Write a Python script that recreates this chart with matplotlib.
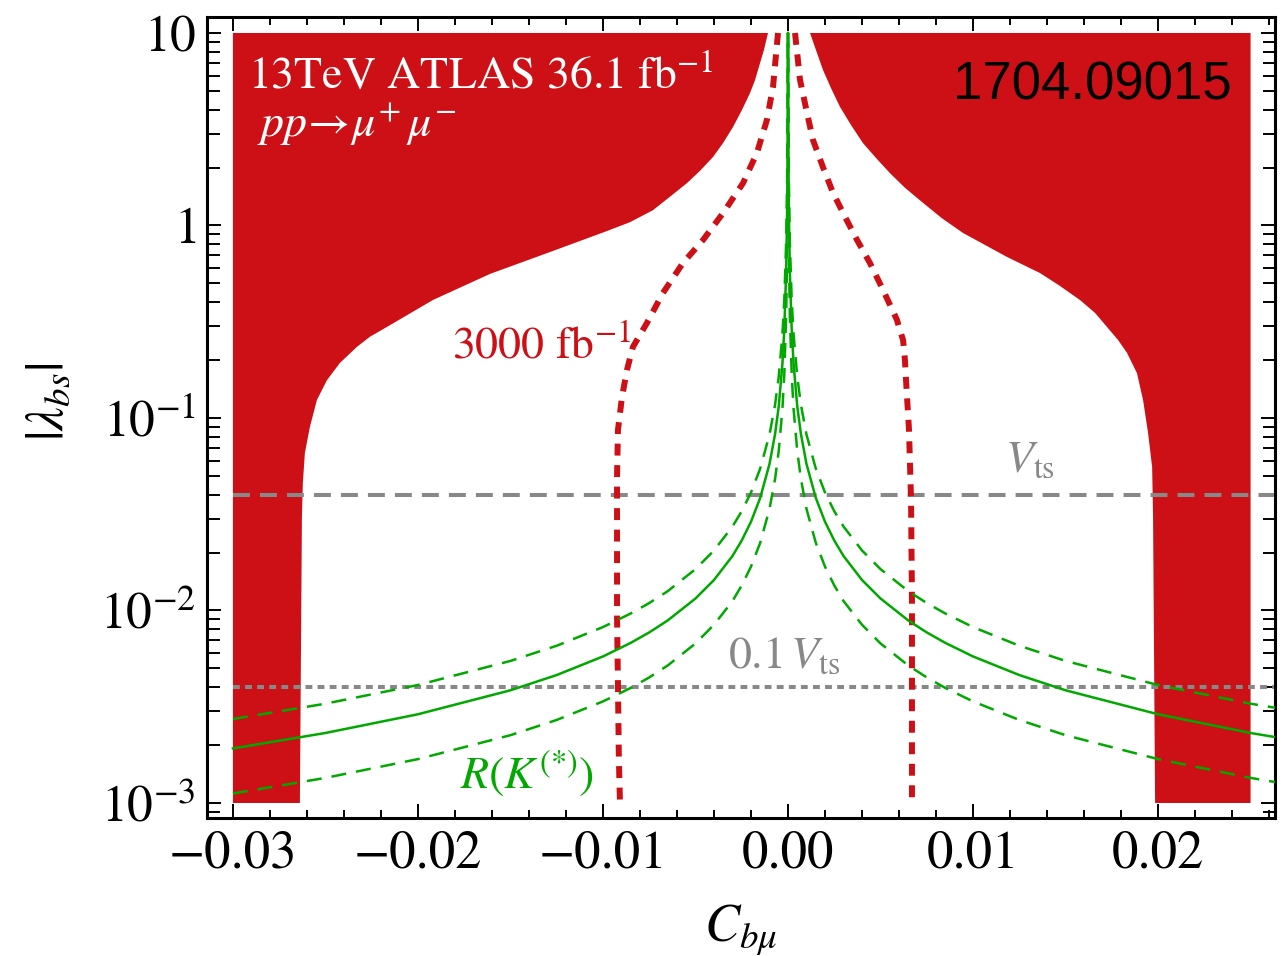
import numpy as np
import matplotlib
matplotlib.use("Agg")
import matplotlib.pyplot as plt
from matplotlib.ticker import FixedLocator, NullFormatter, MultipleLocator

# ---------------- data ----------------
# 36.1 fb^-1 exclusion boundary (left and right branches), C_bmu vs |lambda_bs|
excl_left_c = [-0.00108, -0.0013, -0.00151, -0.00178, -0.00205, -0.00249, -0.00297,
               -0.00351, -0.00405, -0.00476, -0.00546, -0.00638, -0.0073, -0.00854,
               -0.00978, -0.01286, -0.01611, -0.01919, -0.02168, -0.0226, -0.0233,
               -0.02422, -0.02492, -0.02546, -0.02584, -0.02611, -0.02622, -0.02627,
               -0.02638]
excl_left_lam = [10, 8.16, 6.98, 5.70, 4.88, 3.98, 3.25, 2.68, 2.27, 1.92, 1.66, 1.41,
                 1.20, 1.04, 0.936, 0.728, 0.560, 0.410, 0.297, 0.264, 0.234, 0.193,
                 0.157, 0.124, 0.0898, 0.0658, 0.0459, 0.0306, 0.001]
excl_right_c = [0.00119, 0.00151, 0.00189, 0.00232, 0.00281, 0.00341, 0.00405, 0.00476,
                0.00551, 0.00632, 0.0073, 0.00832, 0.00946, 0.01065, 0.01184, 0.01362,
                0.0147, 0.01578, 0.0166, 0.01724, 0.01784, 0.01832, 0.01886, 0.01919,
                0.01946, 0.01968, 0.01973, 0.01984]
excl_right_lam = [10, 8.16, 6.43, 5.18, 4.13, 3.32, 2.68, 2.24, 1.87, 1.57, 1.31, 1.09,
                  0.914, 0.792, 0.686, 0.566, 0.485, 0.410, 0.351, 0.297, 0.254, 0.218,
                  0.171, 0.124, 0.0836, 0.0556, 0.0306, 0.001]
c_min, c_max = -0.03, 0.025
lam_min, lam_max = 1e-3, 10

# 3000 fb^-1 projected reach
hl_left_c = [-0.00054, -0.00081, -0.00114, -0.00168, -0.00243, -0.00351, -0.00459,
             -0.00568, -0.00676, -0.00762, -0.00838, -0.0087, -0.00897, -0.00919,
             -0.00924, -0.00924, -0.00924, -0.00919, -0.00914, -0.00908]
hl_left_lam = [10, 5.24, 3.53, 2.38, 1.66, 1.16, 0.841, 0.638, 0.446, 0.312, 0.234,
               0.178, 0.129, 0.0866, 0.0494, 0.0206, 0.00925, 0.0042, 0.00167, 0.001]
hl_right_c = [0.00038, 0.00065, 0.00103, 0.00135, 0.00189, 0.00243, 0.00308, 0.00373,
              0.00443, 0.00514, 0.00589, 0.00605, 0.00622, 0.00632, 0.00638, 0.00654,
              0.00665, 0.0067, 0.0067, 0.0067]
hl_right_lam = [10, 5.7, 3.84, 2.78, 2.01, 1.48, 1.11, 0.841, 0.638, 0.462, 0.323,
                0.286, 0.254, 0.200, 0.157, 0.0866, 0.0375, 0.0113, 0.00343, 0.001]

# R(K^(*)) band: |C_bmu| grid, central value and 1-sigma edges
rk_abs_c = [0.03, 0.025, 0.02, 0.015, 0.0125, 0.01, 0.0085, 0.0075, 0.0065, 0.005,
            0.004, 0.003, 0.0025, 0.002, 0.0015, 0.001, 0.0007, 0.0005, 0.0003,
            0.0002, 0.0001, 0.00005, 0.00003, 0.00001]
rk_central = [0.00192, 0.00231, 0.00289, 0.00385, 0.00462, 0.00577, 0.00679, 0.00769,
              0.00888, 0.01154, 0.0144, 0.0192, 0.0231, 0.0289, 0.0385, 0.0577, 0.0824,
              0.115, 0.192, 0.289, 0.577, 1.15, 1.92, 5.77]
rk_upper = [0.00273, 0.00328, 0.0041, 0.00547, 0.00656, 0.0082, 0.00965, 0.01093,
            0.0126, 0.0164, 0.0205, 0.0273, 0.0328, 0.041, 0.0547, 0.082, 0.117, 0.164,
            0.273, 0.41, 0.82, 1.64, 2.73, 8.2]
rk_lower = [0.00112, 0.00135, 0.00169, 0.00225, 0.0027, 0.00337, 0.00396, 0.00449,
            0.00518, 0.00674, 0.00843, 0.0112, 0.0135, 0.0169, 0.0225, 0.0337, 0.0481,
            0.0674, 0.112, 0.169, 0.337, 0.674, 1.12, 3.37]
rk_peak = 10

v_ts = 0.04
v_ts_tenth = 0.004

x_ticks = [-0.03, -0.02, -0.01, 0.0, 0.01, 0.02]
x_tick_labels = ["\u22120.03", "\u22120.02", "\u22120.01", "0.00", "0.01", "0.02"]
y_ticks = [1e-3, 1e-2, 1e-1, 1, 10]
y_tick_labels = [r"$10^{-3}$", r"$10^{-2}$", r"$10^{-1}$", r"$1$", r"$10$"]

# ---------------- style ----------------
RED = "#cc1016"
GREEN = "#00a800"
GRAY = "#888888"

plt.rcParams["mathtext.fontset"] = "stix"
plt.rcParams["font.family"] = ["STIXGeneral", "DejaVu Serif"]

fig = plt.figure(figsize=(12.87, 9.56), dpi=100)
ax = fig.add_axes([207 / 1287, 1 - 818 / 956, (1275 - 207) / 1287, (818 - 17) / 956])
ax.set_yscale("log")
ax.set_xlim(-0.0314, 0.02632)
ax.set_ylim(10 ** -3.078, 10 ** 1.083)

# excluded regions
left_poly_x = [c_min, c_min] + excl_left_c
left_poly_y = [lam_min, lam_max] + excl_left_lam
ax.fill(left_poly_x, left_poly_y, color=RED, lw=0, zorder=1)
right_poly_x = [c_max, c_max] + excl_right_c[::-1]
right_poly_y = [lam_max, lam_min] + excl_right_lam[::-1]
ax.fill(right_poly_x, right_poly_y, color=RED, lw=0, zorder=1)

# CKM reference lines
ax.plot([c_min, 0.03], [v_ts, v_ts], color=GRAY, lw=2.9, dashes=(4.2, 2.5),
        zorder=2, dash_capstyle="butt")
ax.plot([c_min, 0.03], [v_ts_tenth, v_ts_tenth], color=GRAY, lw=2.9, dashes=(1.7, 1.3),
        zorder=2, dash_capstyle="butt")

# high-luminosity reach
ax.plot(hl_left_c, hl_left_lam, color=RED, lw=4.3, dashes=(2.0, 1.6), zorder=3,
        dash_capstyle="butt")
ax.plot(hl_right_c, hl_right_lam, color=RED, lw=4.3, dashes=(2.0, 1.6), zorder=3,
        dash_capstyle="butt")

# R(K^(*)) preferred band
abs_c = np.array(rk_abs_c)
c_full = np.concatenate([-abs_c, [0.0], abs_c[::-1]])


def mirrored(vals):
    v = np.array(vals)
    return np.concatenate([v, [rk_peak], v[::-1]])


ax.plot(c_full, mirrored(rk_central), color=GREEN, lw=1.8, zorder=4)
ax.plot(c_full, mirrored(rk_upper), color=GREEN, lw=1.8, dashes=(6, 4), zorder=4)
ax.plot(c_full, mirrored(rk_lower), color=GREEN, lw=1.8, dashes=(6, 4), zorder=4)

# ---------------- axes ----------------
for sp in ax.spines.values():
    sp.set_linewidth(2.2)

ax.xaxis.set_major_locator(FixedLocator(x_ticks))
ax.set_xticklabels(x_tick_labels)
ax.xaxis.set_minor_locator(MultipleLocator(0.002))
ax.yaxis.set_major_locator(FixedLocator(y_ticks))
ax.set_yticklabels(y_tick_labels)
minor_y = [m * 10.0 ** e for e in range(-4, 2) for m in range(2, 10)]
ax.yaxis.set_minor_locator(FixedLocator(minor_y))
ax.yaxis.set_minor_formatter(NullFormatter())

ax.tick_params(which="both", direction="in", top=True, right=True, width=1.4)
ax.tick_params(axis="x", which="major", length=10, labelsize=38, pad=9)
ax.tick_params(axis="x", which="minor", length=5.5)
ax.tick_params(axis="y", which="major", length=10, labelsize=37, pad=8)
ax.tick_params(axis="y", which="minor", length=9)

ax.set_xlabel(r"$C_{b\mu}$", fontsize=38)
ax.xaxis.set_label_coords(0.5, -0.106)
ax.set_ylabel(r"$|\lambda_{bs}|$", fontsize=38)
ax.yaxis.set_label_coords(-0.124, 0.52)

# ---------------- annotations ----------------
ax.text(-0.02919, 5.18, r"13TeV ATLAS 36.1 fb$^{-1}$", color="white", fontsize=33,
        ha="left", va="baseline", zorder=5)
ax.text(-0.0287, 2.88, r"$pp\!\rightarrow\!\mu^{+}\,\mu^{-}$", color="white", fontsize=33,
        ha="left", va="baseline", zorder=5)
ax.text(0.0240, 4.49, "1704.09015", color="black", fontsize=38,
        family="Liberation Sans", ha="right", va="baseline", zorder=5)
ax.text(-0.01816, 0.205, r"3000 fb$^{-1}$", color=RED, fontsize=33,
        ha="left", va="baseline", zorder=5)
ax.text(0.01173, 0.0524, r"$V_{\rm ts}$", color=GRAY, fontsize=33,
        ha="left", va="baseline", zorder=5)
ax.text(-0.00324, 0.00502, r"$0.1\,V_{\rm ts}$", color=GRAY, fontsize=33,
        ha="left", va="baseline", zorder=5)
ax.text(-0.01773, 0.0012, r"$R(K^{(*)})$", color=GREEN, fontsize=33,
        ha="left", va="baseline", zorder=5)

fig.savefig("out.png", dpi=100)
